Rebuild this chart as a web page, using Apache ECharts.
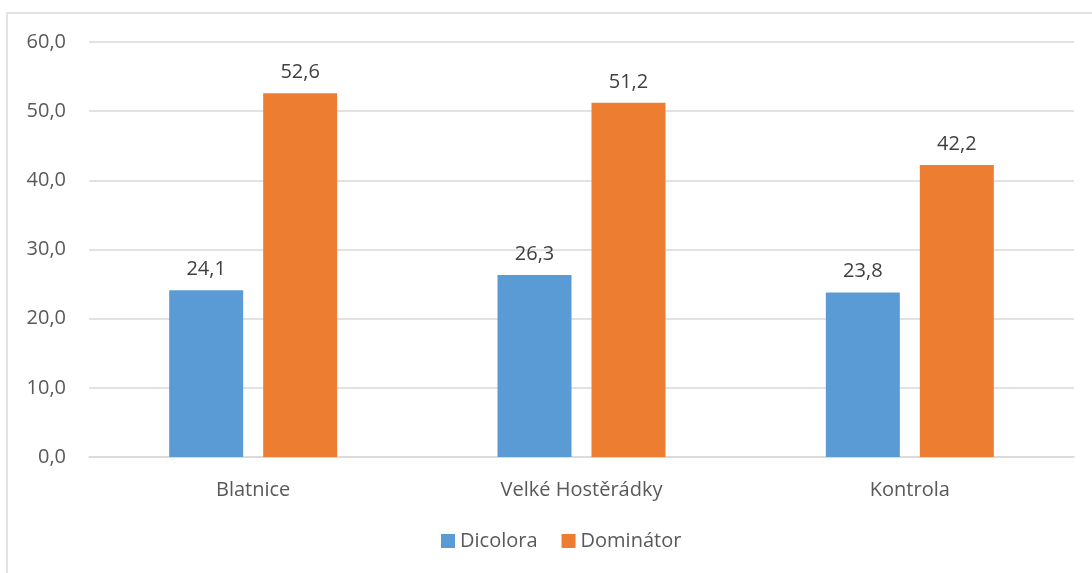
<!DOCTYPE html>
<html><head><meta charset="utf-8">
<script src="https://cdn.jsdelivr.net/npm/echarts@6/dist/echarts.min.js"></script>
<style>html,body{margin:0;padding:0;background:#fff}#c{width:1092px;height:573px}</style>
</head><body><div id="c"></div>
<script>
var categories = ['Blatnice', 'Velké Hostěrádky', 'Kontrola'];
var dicolora = [24.1, 26.3, 23.8];
var dominator = [52.6, 51.2, 42.2];
var seriesNames = ['Dicolora', 'Dominátor'];

var font = '"Open Sans", "Noto Sans", sans-serif';
var fmt = function (v) { return Number(v).toFixed(1).replace('.', ','); };
var chart = echarts.init(document.getElementById('c'));
chart.setOption({
  animation: false,
  textStyle: { fontFamily: font },
  graphic: [{ type: 'rect', shape: { x: 7, y: 13, width: 2000, height: 2000 }, style: { fill: 'none', stroke: '#d9d9d9', lineWidth: 1.5 }, silent: true }],
  grid: { left: 89, right: 18, top: 42, bottom: 116 },
  legend: {
    bottom: 17, left: 436, itemWidth: 14, itemHeight: 14, itemGap: 24,
    icon: 'rect',
    textStyle: { fontFamily: font, fontSize: 20, color: '#595959' },
    data: seriesNames
  },
  xAxis: {
    type: 'category', data: categories,
    axisLine: { lineStyle: { color: '#d9d9d9', width: 1.5 } },
    axisTick: { show: false },
    axisLabel: { fontFamily: font, fontSize: 20, color: '#595959', margin: 23 }
  },
  yAxis: {
    type: 'value', min: 0, max: 60, interval: 10,
    axisLine: { show: false }, axisTick: { show: false },
    splitLine: { lineStyle: { color: '#d9d9d9', width: 1.5 } },
    axisLabel: { fontFamily: font, fontSize: 20, color: '#595959', margin: 23, formatter: fmt }
  },
  series: [
    { name: seriesNames[0], type: 'bar', data: dicolora, barWidth: 74, barGap: '27%',
      itemStyle: { color: '#5b9bd5' },
      label: { show: true, position: 'top', distance: 11, fontFamily: font, fontSize: 20, color: '#404040', formatter: function (p) { return fmt(p.value); } } },
    { name: seriesNames[1], type: 'bar', data: dominator, barWidth: 74,
      itemStyle: { color: '#ed7d31' },
      label: { show: true, position: 'top', distance: 11, fontFamily: font, fontSize: 20, color: '#404040', formatter: function (p) { return fmt(p.value); } } }
  ]
});
</script></body></html>
